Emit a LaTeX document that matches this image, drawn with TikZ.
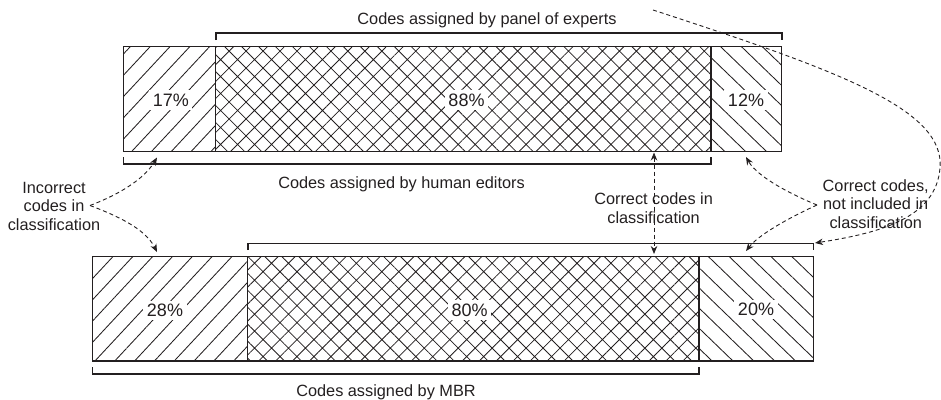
\documentclass[tikz,border=0pt]{standalone}
\usepackage{fontspec}
\setmainfont{Liberation Sans}
\usetikzlibrary{patterns.meta,arrows.meta}
\definecolor{ink}{HTML}{231F20}
\begin{document}
\begin{tikzpicture}[x=1pt,y=-1pt,
  seg/.style={draw=ink, line width=1.1pt, inner sep=0pt, outer sep=0pt, anchor=north west},
  hatchL/.style={seg, pattern={Lines[angle=47,distance=14.5pt,line width=0.85pt]}, pattern color=ink},
  hatchR/.style={seg, pattern={Lines[angle=-44,distance=14.5pt,line width=0.85pt]}, pattern color=ink},
  cross/.style={seg, pattern={Hatch[angle=45,distance=12pt,line width=0.8pt]}, pattern color=ink},
  lbl/.style={inner sep=0pt, text=ink, font=\fontsize{16.3}{18.5}\selectfont},
  pct/.style={lbl, fill=white, inner sep=3.5pt, anchor=base, font=\fontsize{18}{20}\selectfont},
  bracket/.style={draw=ink, line width=1.6pt},
  conn/.style={draw=ink, line width=0.9pt, dash pattern=on 4pt off 3pt, -{Stealth[length=8pt,width=6.5pt]}},
]
\useasboundingbox (0,0) rectangle (941,399);

% top bar
\node[hatchL, minimum width=92.4pt, minimum height=105pt] (t1) at (123.3,46.7) {};
\node[cross, minimum width=495.3pt, minimum height=105pt] (t2) at (215.7,46.7) {};
\node[hatchR, minimum width=70.7pt, minimum height=105pt] (t3) at (711,46.7) {};
% bottom bar
\node[hatchL, minimum width=155.4pt, minimum height=104.3pt] (b1) at (92.3,256.7) {};
\node[cross, minimum width=451.3pt, minimum height=104.3pt] (b2) at (247.7,256.7) {};
\node[hatchR, minimum width=114.3pt, minimum height=104.3pt] (b3) at (699,256.7) {};

% percentages
\node[pct] (p17) at (170.8,106) {17\%};
\node[pct] (p88) at (466.5,106) {88\%};
\node[pct] (p12) at (746,106) {12\%};
\node[pct] (p28) at (165,316.7) {28\%};
\node[pct] (p80) at (469.7,316) {80\%};
\node[pct] (p20) at (756,315.7) {20\%};

% brackets
\draw[bracket] ([yshift=6.7pt]t2.north west) -- ([yshift=13.7pt]t2.north west) -- ([yshift=13.7pt]t3.north east) -- ([yshift=6.7pt]t3.north east);
\draw[bracket] ([yshift=-5.3pt]t1.south west) -- ([yshift=-12.3pt]t1.south west) -- ([yshift=-12.3pt]t2.south east) -- ([yshift=-5.3pt]t2.south east);
\draw[bracket] ([yshift=6.7pt]b2.north west) -- ([yshift=13.4pt]b2.north west) -- ([yshift=13.4pt]b3.north east) -- ([yshift=6.7pt]b3.north east);
\draw[bracket] ([yshift=-6pt]b1.south west) -- ([yshift=-13pt]b1.south west) -- ([yshift=-13pt]b2.south east) -- ([yshift=-6pt]b2.south east);

% bracket labels
\node[lbl, anchor=base] (lpanel) at (487,24) {Codes assigned by panel of experts};
\node[lbl, anchor=base] (lhuman) at (401.5,188) {Codes assigned by human editors};
\node[lbl, anchor=base] (lmbr) at (386,396.7) {Codes assigned by MBR};

% side labels
\node[lbl, align=center, anchor=north] (inc) at (54,181.7) {Incorrect\\codes in\\classification};
\node[lbl, align=center, anchor=north] (cor) at (653.6,192.7) {Correct codes in\\classification};
\node[lbl, align=center, anchor=north] (notinc) at (875.7,179.3) {Correct codes,\\not included in\\classification};

% connector ends
\coordinate (incR) at (90,205.5);
\coordinate (ncL) at (817,205);
\coordinate (e17) at (157,157.5);
\coordinate (e28) at (157,252);
\coordinate (e12) at (746,157);
\coordinate (e20) at (746,251);
\coordinate (vTop) at (654,152.5);
\coordinate (vBot) at (654,254);
\coordinate (cStart) at (653,10);
\coordinate (cEnd) at (815,243);

% connectors
\draw[conn] (incR) .. controls (115,196) and (143,181) .. (e17);
\draw[conn] (incR) .. controls (115,215) and (145,228) .. (e28);
\draw[conn] (ncL) .. controls (795,196) and (758,178) .. (e12);
\draw[conn] (ncL) .. controls (797,214) and (760,233) .. (e20);
\draw[conn, {Stealth[length=8pt,width=6.5pt]}-{Stealth[length=8pt,width=6.5pt]}] (vTop) -- (vBot);
\draw[conn] (cStart) .. controls (843,72) and (945,110) .. (940,168) .. controls (936,218) and (880,233) .. (cEnd);
\end{tikzpicture}
\end{document}
